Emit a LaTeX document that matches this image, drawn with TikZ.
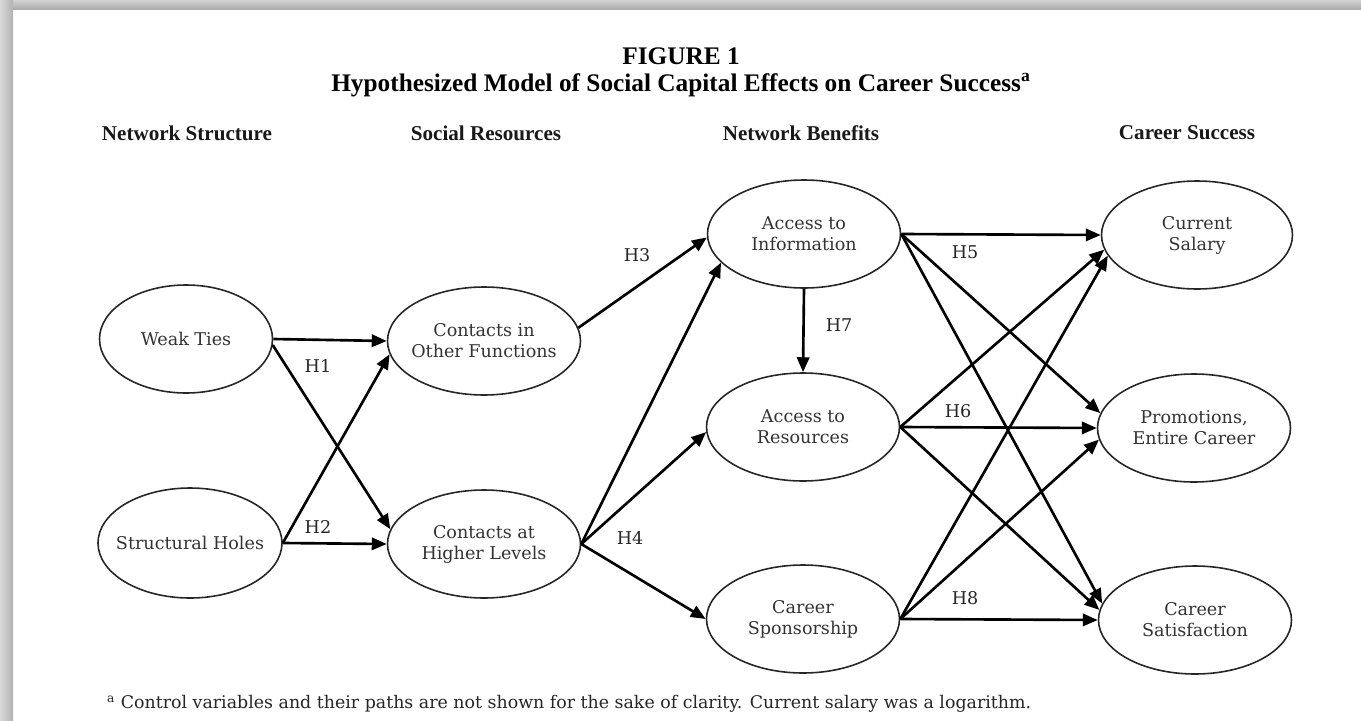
\documentclass[tikz,border=0pt]{standalone}
\usepackage{fontspec}
\setmainfont{Liberation Serif}
\newfontfamily\boxfont{DejaVu Serif}
\usepackage{tikz}
\usetikzlibrary{arrows.meta}
\usetikzlibrary{shapes.geometric}

\begin{document}
\begin{tikzpicture}[
x=0.2mm, y=-0.2mm,
Factor/.style={draw=black!85,line width=0.9pt,ellipse,inner xsep=-3mm,inner ysep=0pt,
  minimum width=38.6mm,minimum height=21.6mm,align=center,
  font=\boxfont\fontsize{10}{12}\selectfont,text=black!80},
Path/.style={draw=black,line width=1.5pt,-{Triangle[length=8.5pt,width=7pt]}},
Header/.style={font=\bfseries\fontsize{12}{14}\selectfont,text=black!90},
Hyp/.style={font=\boxfont\fontsize{10}{12}\selectfont,text=black!85},
Title/.style={font=\bfseries\fontsize{14.4}{17}\selectfont,inner sep=0pt}
]
\useasboundingbox (0,0) rectangle (1361,721);
\fill[white] (0,0) rectangle (1361,721);
\shade[top color=gray!35,bottom color=gray!65] (0,0) rectangle (1361,9);
\shade[left color=gray!30,right color=gray!60] (0,0) rectangle (13,721);

\node[Title] (fig) at (681,56) {FIGURE 1};
\node[Title] (title) at (681,85)
  {Hypothesized Model of Social Capital Effects on Career Success\textsuperscript{a}};

\node[Header] (hNS) at (187,133) {Network Structure};
\node[Header] (hSR) at (486,133) {Social Resources};
\node[Header] (hNB) at (801,133) {Network Benefits};
\node[Header] (hCS) at (1187,133) {Career Success};

\node[Factor,minimum width=34.6mm] (WT) at (186,339) {Weak Ties};
\node[Factor,minimum width=36.8mm,minimum height=22mm] (SH) at (190,543) {Structural Holes};
\node[Factor] (COF) at (484,341) {Contacts in\\Other Functions};
\node[Factor] (CHL) at (484,544) {Contacts at\\Higher Levels};
\node[Factor] (AI) at (804,234) {Access to\\Information};
\node[Factor] (AR) at (803,427) {Access to\\Resources};
\node[Factor] (CSp) at (803,619) {Career\\Sponsorship};
\node[Factor,minimum width=38.2mm] (CurS) at (1197,235) {Current\\Salary};
\node[Factor] (Prom) at (1194,428) {Promotions,\\Entire Career};
\node[Factor] (CSat) at (1195,620) {Career\\Satisfaction};

\draw[Path] (WT.east) -- (COF.west);
\draw[Path] (WT.-4) -- (CHL.171);
\draw[Path] (SH.east) -- (COF.188);
\draw[Path] (SH.east) -- (CHL.west);

\draw[Path] (COF.8) -- (AI.182);
\draw[Path] (CHL.east) -- (AI.199);
\draw[Path] (CHL.east) -- (AR.183);
\draw[Path] (CHL.east) -- (CSp.west);
\draw[Path] (AI.south) -- (AR.north);

\draw[Path] (AI.east) -- (CurS.west);
\draw[Path] (AI.east) -- (Prom.171);
\draw[Path] (AI.east) -- (CSat.170);
\draw[Path] (AR.east) -- (CurS.189);
\draw[Path] (AR.east) -- (Prom.west);
\draw[Path] (AR.east) -- (CSat.174);
\draw[Path] (CSp.east) -- (CurS.193);
\draw[Path] (CSp.east) -- (Prom.187);
\draw[Path] (CSp.east) -- (CSat.west);

\node[Hyp] (H1) at (318,366) {H1};
\node[Hyp] (H2) at (318,527) {H2};
\node[Hyp] (H3) at (637,255) {H3};
\node[Hyp] (H4) at (630,538) {H4};
\node[Hyp] (H5) at (965,252) {H5};
\node[Hyp] (H6) at (958,411) {H6};
\node[Hyp] (H7) at (839,325) {H7};
\node[Hyp] (H8) at (965,598) {H8};

\node[anchor=west,font=\boxfont\fontsize{9.9}{11}\selectfont,text=black!85] (note) at (101,704)
  {\textsuperscript{a} Control variables and their paths are not shown for the sake of clarity. Current salary was a logarithm.};
\end{tikzpicture}
\end{document}
